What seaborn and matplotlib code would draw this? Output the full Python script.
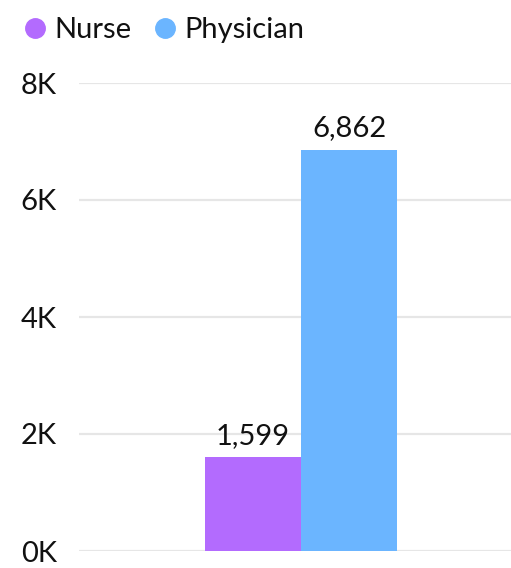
import matplotlib
matplotlib.use("Agg")
import matplotlib.pyplot as plt
from matplotlib.lines import Line2D
import seaborn as sns
import pandas as pd

roles = ["Nurse", "Physician"]
counts = [1599, 6862]
colors = ["#b36bfe", "#6bb5ff"]
y_ticks = [0, 2000, 4000, 6000, 8000]
y_tick_labels = ["0K", "2K", "4K", "6K", "8K"]

df = pd.DataFrame({"group": ["All"] * len(roles), "role": roles, "count": counts})

sns.set_theme(style="white")
plt.rcParams["font.family"] = ["Lato", "DejaVu Sans"]

FS = 21

fig = plt.figure(figsize=(5.11, 5.68), dpi=100)
ax = fig.add_axes([79 / 511, 1 - 551 / 568, 1 - 79 / 511, (551 - 83) / 568])

sns.barplot(data=df, x="group", y="count", hue="role", palette=colors,
            hue_order=roles, width=0.8, saturation=1, linewidth=0,
            ax=ax, legend=False)

for container in ax.containers:
    ax.bar_label(container, labels=[f"{v:,.0f}" for v in container.datavalues],
                 padding=6, fontsize=FS, color="#111111")

ax.set_ylim(0, 8000)
ax.set_xlim(-0.925, 0.875)
ax.set_yticks(y_ticks)
ax.set_yticklabels(y_tick_labels, fontsize=FS, color="#111111")
ax.set_xticks([])
ax.set_xlabel("")
ax.set_ylabel("")
ax.tick_params(axis="y", length=0, pad=16)
ax.grid(axis="y", color="#e6e6e6", linewidth=1.6)
ax.set_axisbelow(True)
for s in ax.spines.values():
    s.set_visible(False)

handles = [Line2D([0], [0], marker="o", linestyle="", markersize=14,
                  markerfacecolor=c, markeredgecolor=c) for c in colors]
fig.legend(handles, roles, loc="upper left", bbox_to_anchor=(0.015, 0.995),
           ncol=2, frameon=False, fontsize=FS, handlelength=0.9,
           handletextpad=0.2, columnspacing=0.7, borderaxespad=0.2,
           borderpad=0.3, labelcolor="#111111")

fig.savefig("out.png", dpi=100)
